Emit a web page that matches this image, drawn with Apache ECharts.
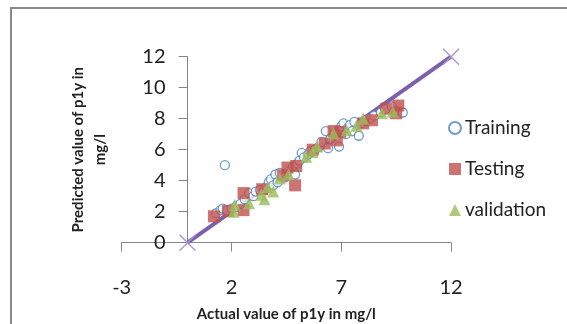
<!DOCTYPE html>
<html><head><meta charset="utf-8">
<script src="https://cdn.jsdelivr.net/npm/echarts@6/dist/echarts.min.js"></script>
<style>html,body{margin:0;padding:0;background:#fff}#c{width:567px;height:324px}</style>
</head><body><div id="c"></div>
<script>
var trainingX = [1.3,1.5,1.6,1.7,1.8,2.0,2.2,2.4,2.6,2.8,3.0,3.1,3.3,3.5,3.6,3.7,3.8,3.9,4.0,4.1,4.2,4.4,4.6,4.8,4.9,5.0,5.1,5.2,5.3,5.5,5.6,5.8,6.0,6.1,6.3,6.4,6.5,6.7,6.9,7.0,7.1,7.2,7.3,7.4,7.5,7.6,7.8,7.9,8.1,8.3,8.5,8.8,9.0,9.3,9.5,9.8];
var trainingY = [1.9,2.1,2.2,5.0,2.1,2.2,2.3,2.5,2.8,3.2,3.0,3.3,3.4,3.4,3.6,3.9,4.1,3.7,4.4,3.9,4.5,4.2,4.6,4.9,4.4,5.1,5.3,5.8,5.5,5.7,5.9,6.0,6.2,6.5,7.2,6.1,6.7,7.0,6.2,7.5,7.7,7.0,7.4,7.6,7.2,7.8,6.9,7.7,7.9,8.0,8.2,8.4,8.6,8.8,8.5,8.4];
var testingX = [1.2,1.85,2.55,2.55,3.4,4.35,4.55,4.9,4.95,5.7,6.25,6.65,6.8,6.95,8.0,8.4,9.05,9.5,9.6];
var testingY = [1.7,2.05,2.1,3.2,3.45,4.35,4.85,3.7,4.95,6.0,6.4,7.2,6.6,7.15,7.7,7.9,8.65,8.35,8.85];
var validationX = [2.1,2.15,2.8,3.35,3.5,3.65,3.9,4.2,4.6,5.4,5.7,5.9,6.65,7.25,7.7,8.0,8.85,9.35];
var validationY = [2.0,2.45,2.55,3.1,2.8,3.6,3.3,4.15,4.4,5.55,5.85,6.2,7.05,7.25,7.55,8.0,8.35,8.45];
var refX = [0,12];
var refY = [0,12];
var xTicks = [-3,2,7,12];
var yTicks = [0,2,4,6,8,10,12];

function pairs(a,b){return a.map(function(v,i){return [v,b[i]];});}
var font = 'Lato, "Open Sans", sans-serif';
var axisGray = '#868686';
var gridLeft = 121.7, gridRight = 451;
// y axis crosses the x axis at x = 0
var yAxisShift = (0 - xTicks[0]) / (xTicks[xTicks.length-1] - xTicks[0]) * (gridRight - gridLeft);
var chart = echarts.init(document.getElementById('c'), null, {renderer:'canvas'});
chart.setOption({
  animation:false,
  backgroundColor:'#fff',
  grid:{left:gridLeft, right:567-gridRight, top:56.7, bottom:81.3, containLabel:false, outerBoundsMode:'none'},
  graphic:[{type:'rect', shape:{x:11,y:8,width:700,height:400}, style:{fill:'none', stroke:'#8a8a8a', lineWidth:2}, silent:true}],
  xAxis:{type:'value', min:xTicks[0], max:xTicks[xTicks.length-1], interval:5,
    splitLine:{show:false},
    axisLine:{show:true, onZero:true, lineStyle:{color:axisGray}},
    axisTick:{show:true, inside:false, length:9, lineStyle:{color:axisGray}},
    axisLabel:{margin:35, fontSize:20, color:'#222', fontFamily:font},
    name:'Actual value of p1y in mg/l', nameLocation:'middle', nameGap:64,
    nameTextStyle:{fontSize:15, fontWeight:'bold', color:'#222', fontFamily:font}},
  yAxis:{type:'value', min:yTicks[0], max:yTicks[yTicks.length-1], interval:2,
    offset:-yAxisShift,
    splitLine:{show:false},
    axisLine:{show:true, onZero:false, lineStyle:{color:axisGray}},
    axisTick:{show:true, length:9, lineStyle:{color:axisGray}},
    axisLabel:{margin:22, fontSize:20, color:'#222', fontFamily:font},
    name:'Predicted value of p1y in\nmg/l', nameLocation:'middle', nameGap:76, nameRotate:90,
    nameTextStyle:{fontSize:15, fontWeight:'bold', color:'#222', fontFamily:font, lineHeight:22, align:'center'}},
  legend:{orient:'vertical', left:443, top:112, itemGap:19, itemWidth:12, itemHeight:12,
    textStyle:{fontSize:19, color:'#222', fontFamily:font, lineHeight:22, padding:[0,0,0,-1]},
    data:['Training','Testing','validation']},
  series:[
    {name:'ref', type:'line', data:pairs(refX,refY), symbol:'path://M0,0L10,10M10,0L0,10', symbolSize:16,
      showSymbol:true, lineStyle:{color:'#7E5FAE', width:4}, itemStyle:{color:'none', borderColor:'#A896CF', borderWidth:1.3}, z:1},
    {name:'Training', type:'scatter', data:pairs(trainingX,trainingY), symbol:'circle', symbolSize:9,
      itemStyle:{color:'#fff', borderColor:'#4F81BD', borderWidth:1.3}, z:2},
    {name:'Testing', type:'scatter', data:pairs(testingX,testingY), symbol:'rect', symbolSize:12,
      itemStyle:{color:'#C0504D'}, z:3},
    {name:'validation', type:'scatter', data:pairs(validationX,validationY), symbol:'triangle', symbolSize:12,
      itemStyle:{color:'#9BBB59'}, z:4}
  ]
});
</script></body></html>
